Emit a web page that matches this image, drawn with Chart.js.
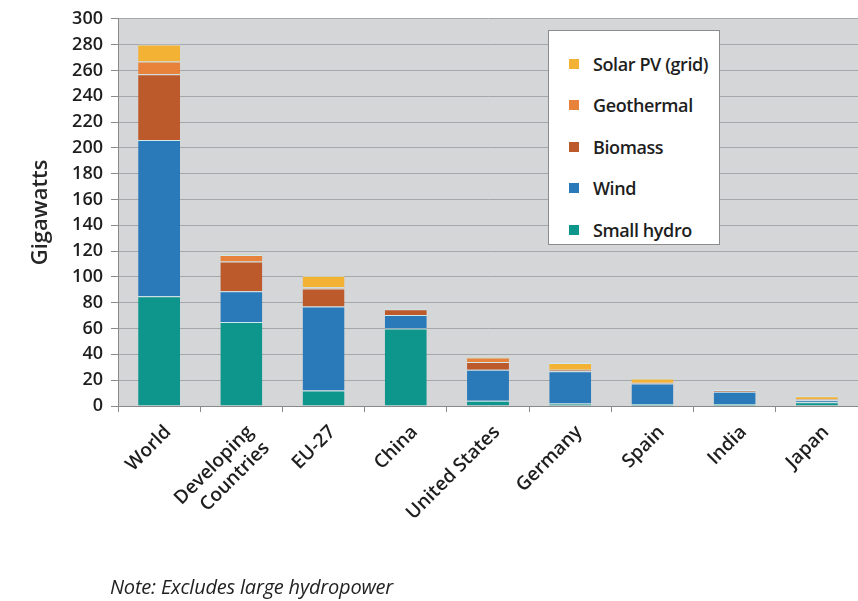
<!DOCTYPE html>
<html>
<head>
<meta charset="utf-8">
<script src="https://cdn.jsdelivr.net/npm/chart.js@4/dist/chart.umd.min.js"></script>
<style>
    html, body { margin: 0; padding: 0; background: #fff; }
    #wrap { position: relative; width: 858px; height: 601px; }
    #legend {
        position: absolute; left: 548px; top: 30px; width: 172px; height: 215px;
        background: #fff; border: 1px solid #8c8c8c; box-sizing: border-box;
        font-family: "Open Sans", sans-serif; font-weight: 600; font-size: 18px; color: #1e1e1e;
        padding-top: 12px; letter-spacing: -0.4px;
    }
    #legend .item { display: flex; align-items: center; height: 41.5px; padding-left: 20px; }
    #legend .swatch { width: 10px; height: 10px; margin-right: 14px; }
    #note {
        position: absolute; left: 110px; top: 573px;
        font-family: "Open Sans", sans-serif; font-style: italic; font-size: 20px; color: #222;
        letter-spacing: -0.2px;
    }
</style>
</head>
<body>
<div id="wrap">
    <canvas id="chart" width="858" height="601"></canvas>
    <div id="legend"></div>
    <div id="note">Note: Excludes large hydropower</div>
</div>
<script>
// Renewable power capacity by source (GW)
const categories = ['World', ['Developing', 'Countries'], 'EU-27', 'China', 'United States', 'Germany', 'Spain', 'India', 'Japan'];
const smallHydro = [85, 65, 12, 60, 4, 2, 1.5, 1.5, 3];
const wind = [121, 24, 65, 10.5, 24, 25, 16, 9.6, 1.5];
const biomass = [51, 23, 14, 4.5, 6, 1, 0.5, 1.2, 0.5];
const geothermal = [10, 5, 1, 0, 3.5, 0, 0, 0, 0.5];
const solarPV = [13, 0.5, 9, 0.3, 0.8, 5.4, 3.3, 0, 2];
const yTicks = [0, 300, 20]; // min, max, step

const series = [
    { label: 'Small hydro', data: smallHydro, color: '#0f968c' },
    { label: 'Wind', data: wind, color: '#2a79b9' },
    { label: 'Biomass', data: biomass, color: '#bd5a2b' },
    { label: 'Geothermal', data: geothermal, color: '#e8813a' },
    { label: 'Solar PV (grid)', data: solarPV, color: '#f4b235' }
];

// Grey fill behind the plot area
const plotBackground = {
    id: 'plotBackground',
    beforeDraw(chart) {
        const { ctx, chartArea: a } = chart;
        ctx.save();
        ctx.fillStyle = '#d4d6d8';
        ctx.fillRect(a.left, a.top, a.right - a.left, a.bottom - a.top);
        ctx.restore();
    }
};

const labelFont = { family: '"Open Sans", sans-serif', size: 18, weight: '600' };

new Chart(document.getElementById('chart'), {
    type: 'bar',
    data: {
        labels: categories,
        datasets: series.map(s => ({
            label: s.label,
            data: s.data,
            backgroundColor: s.color,
            borderColor: 'rgba(205, 236, 242, 0.9)',
            borderWidth: { top: 1, right: 0, bottom: 0, left: 0 },
            borderSkipped: false,
            categoryPercentage: 1,
            barPercentage: 0.51
        }))
    },
    options: {
        responsive: false,
        animation: false,
        layout: { padding: { top: 18, right: 0, bottom: 0, left: 0 } },
        plugins: {
            legend: { display: false },
            tooltip: { enabled: false }
        },
        scales: {
            x: {
                stacked: true,
                afterFit: scale => { scale.height = 195; },
                grid: { display: true, drawOnChartArea: false, offset: true, tickLength: 6, tickColor: '#8a8a8a' },
                border: { color: '#8a8a8a', width: 1 },
                ticks: {
                    minRotation: 45, maxRotation: 45, padding: 9, labelOffset: 9,
                    color: '#1e1e1e', font: { ...labelFont, size: 19 }
                }
            },
            y: {
                stacked: true,
                min: yTicks[0],
                max: yTicks[1],
                afterFit: scale => { scale.width = 118; },
                grid: { color: '#a5a7aa', tickLength: 7, tickColor: '#8a8a8a' },
                border: { color: '#8a8a8a', width: 1 },
                ticks: { stepSize: yTicks[2], padding: 8, color: '#1e1e1e', font: labelFont },
                title: {
                    display: true, text: 'Gigawatts', color: '#262626',
                    font: { family: '"Open Sans", sans-serif', size: 22, weight: '600' },
                    padding: { top: 28, bottom: 0 }
                }
            }
        }
    },
    plugins: [plotBackground]
});

// Legend lists the stack from top to bottom
const legend = document.getElementById('legend');
series.slice().reverse().forEach(s => {
    const item = document.createElement('div');
    item.className = 'item';
    item.innerHTML = `<span class="swatch" style="background:${s.color}"></span><span>${s.label}</span>`;
    legend.appendChild(item);
});
</script>
</body>
</html>
